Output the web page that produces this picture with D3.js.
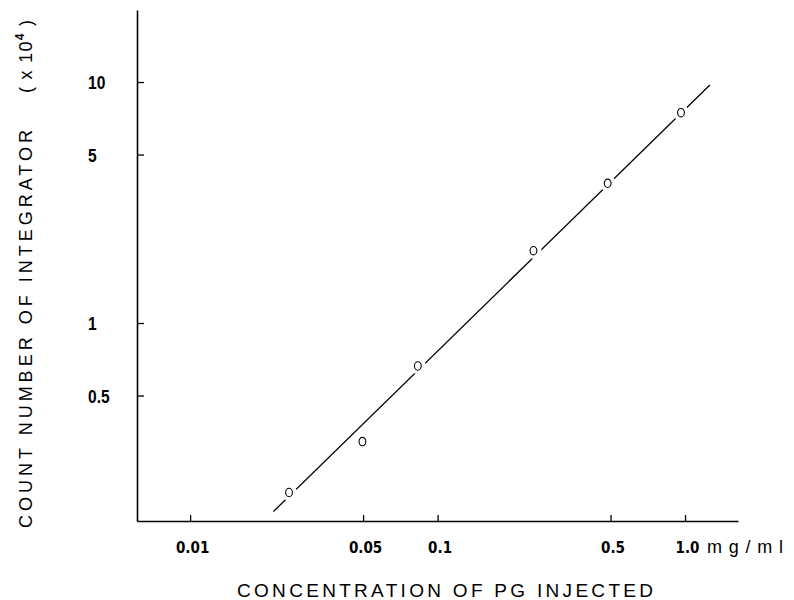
<!DOCTYPE html>
<html><head><meta charset="utf-8">
<script src="https://cdn.jsdelivr.net/npm/d3@7"></script>
<style>
html,body{margin:0;padding:0;background:#fff;}
svg{display:block;}
</style>
</head><body>
<svg id="chart" width="794" height="600"></svg>
<script>
// Data
const concentration = [0.0251, 0.0497, 0.0832, 0.244, 0.487, 0.963]; // mg/ml
const counts = [0.198, 0.322, 0.663, 1.995, 3.80, 7.46];           // x 10^4
const fitX = [0.0217, 1.26];
const fitY = [0.165, 9.72];
const xTicks = [0.01, 0.05, 0.1, 0.5, 1.0];
const xTickLabels = ["0.01", "0.05", "0.1", "0.5", "1.0"];
const yTicks = [0.5, 1, 5, 10];
const yTickLabels = ["0.5", "1", "5", "10"];

const svg = d3.select("#chart");
const x = d3.scaleLog().domain([0.0061, 1.637]).range([137, 738]);
const y = d3.scaleLog().domain([0.1508, 19.9]).range([521, 10]);

// axes
const sx = 0.82;
const yAxis = d3.axisLeft(y).tickValues(yTicks).tickFormat((d, i) => yTickLabels[i])
  .tickSizeInner(-7).tickSizeOuter(0);
const gy = svg.append("g").attr("transform", "translate(137,0)").call(yAxis);
gy.select(".domain").attr("stroke", "#000").attr("stroke-width", 1.6);
gy.selectAll(".tick line").attr("stroke", "#000").attr("stroke-width", 1.3);
gy.selectAll(".tick text")
  .attr("x", -49 / sx).attr("dy", "0.36em").attr("text-anchor", "start")
  .attr("transform", `scale(${sx},1)`)
  .attr("font-family", "'Liberation Sans', sans-serif")
  .attr("font-weight", "bold").attr("font-size", 19).attr("fill", "#000");

const xAxis = d3.axisBottom(x).tickValues(xTicks).tickFormat((d, i) => xTickLabels[i])
  .tickSizeInner(-6).tickSizeOuter(0);
const gx = svg.append("g").attr("transform", "translate(0,521)").call(xAxis);
gx.select(".domain").attr("stroke", "#000").attr("stroke-width", 1.6);
gx.selectAll(".tick line").attr("stroke", "#000").attr("stroke-width", 1.3);
gx.selectAll(".tick text")
  .attr("y", 32).attr("dy", 0).attr("x", 2).attr("text-anchor", "middle")
  .attr("font-family", "'DejaVu Sans Condensed', 'DejaVu Sans', sans-serif")
  .attr("font-stretch", "condensed")
  .attr("font-weight", "bold").attr("font-size", 15).attr("fill", "#000");

// unit label
svg.append("text").attr("x", 707).attr("y", 553)
  .attr("font-family", "'Liberation Sans', sans-serif").attr("font-size", 18)
  .attr("textLength", 76).attr("lengthAdjust", "spacing").text("mg/ml");

// x title
svg.append("text").attr("x", 237).attr("y", 597)
  .attr("font-family", "'Liberation Sans', sans-serif").attr("font-size", 19)
  .attr("textLength", 416).attr("lengthAdjust", "spacing")
  .text("CONCENTRATION OF PG INJECTED");

// y title
svg.append("text").attr("transform", "translate(32,528) rotate(-90)")
  .attr("font-family", "'Liberation Sans', sans-serif").attr("font-size", 18)
  .attr("textLength", 398).attr("lengthAdjust", "spacing")
  .text("COUNT NUMBER OF INTEGRATOR");
const yt2 = svg.append("text").attr("transform", "translate(32,93) rotate(-90)")
  .attr("font-family", "'Liberation Sans', sans-serif").attr("font-size", 18)
  .attr("letter-spacing", 1.3);
yt2.append("tspan").text("( x 10");
yt2.append("tspan").attr("dy", -8).attr("font-size", 12).attr("font-weight", "bold").text("4");
yt2.append("tspan").attr("dy", 8).text(" )");

// fitted line
const line = d3.line().x(d => x(d[0])).y(d => y(d[1]));
svg.append("path").datum(d3.zip(fitX, fitY)).attr("d", line)
  .attr("fill", "none").attr("stroke", "#000").attr("stroke-width", 1.3);

// gaps around markers and markers
const pts = d3.zip(concentration, counts);
svg.append("g").selectAll("circle").data(pts).join("circle")
  .attr("cx", d => x(d[0])).attr("cy", d => y(d[1])).attr("r", 8).attr("fill", "#fff");
svg.append("g").selectAll("ellipse").data(pts).join("ellipse")
  .attr("cx", d => x(d[0])).attr("cy", d => y(d[1])).attr("rx", 3.4).attr("ry", 4.2)
  .attr("fill", "none").attr("stroke", "#000").attr("stroke-width", 1.1);
</script>
</body></html>
